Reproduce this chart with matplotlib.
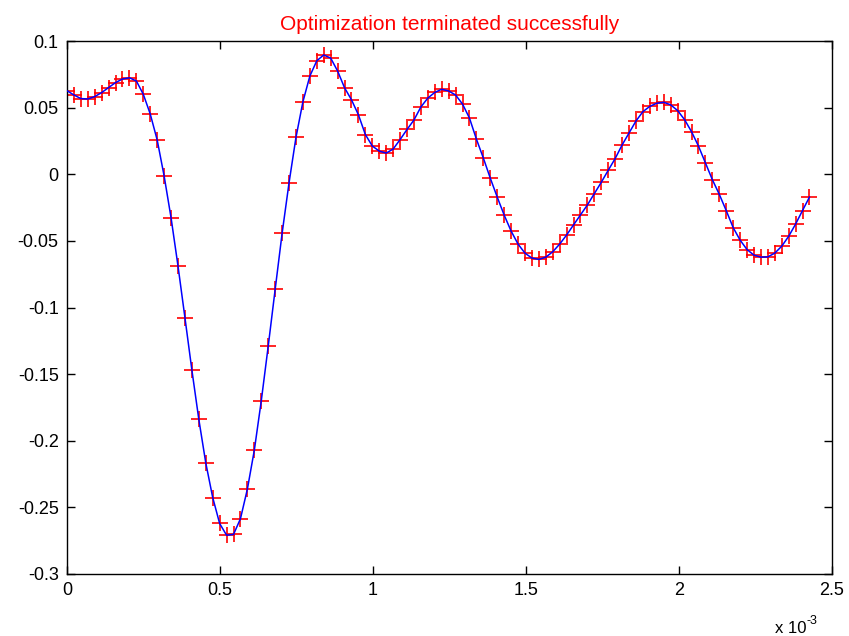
import numpy as np
import matplotlib
matplotlib.use('Agg')
import matplotlib.pyplot as plt
from matplotlib.ticker import FuncFormatter

plt.rcParams['font.family'] = ['Liberation Sans', 'DejaVu Sans']
plt.rcParams['axes.unicode_minus'] = False

fs = 44100.0  # sample rate, one marker per sample
n_samples = 108

y_vals = [
    0.0627, 0.0595, 0.0568, 0.0565, 0.0583, 0.0613, 0.0651, 0.0688, 0.0715, 0.0724,
    0.0700, 0.0600, 0.0452, 0.0257, -0.0013, -0.0327, -0.0689, -0.1077, -0.1470, -0.1840,
    -0.2166, -0.2426, -0.2621, -0.2709, -0.2703, -0.2585, -0.2362, -0.2070, -0.1700, -0.1290,
    -0.0864, -0.0444, -0.0064, 0.0277, 0.0544, 0.0737, 0.0852, 0.0895, 0.0872, 0.0775,
    0.0649, 0.0559, 0.0446, 0.0298, 0.0212, 0.0174, 0.0159, 0.0189, 0.0260, 0.0336,
    0.0407, 0.0505, 0.0572, 0.0614, 0.0638, 0.0625, 0.0595, 0.0527, 0.0422, 0.0264,
    0.0122, -0.0029, -0.0171, -0.0306, -0.0426, -0.0524, -0.0592, -0.0629, -0.0639, -0.0622,
    -0.0582, -0.0524, -0.0456, -0.0380, -0.0305, -0.0230, -0.0145, -0.0060, 0.0030, 0.0118,
    0.0220, 0.0310, 0.0400, 0.0470, 0.0510, 0.0533, 0.0540, 0.0521, 0.0478, 0.0410,
    0.0320, 0.0212, 0.0086, -0.0040, -0.0150, -0.0272, -0.0400, -0.0494, -0.0565, -0.0607,
    -0.0622, -0.0620, -0.0592, -0.0540, -0.0466, -0.0374, -0.0272, -0.0171,
]
t = np.arange(n_samples) / fs

x_ticks = [0, 0.5e-3, 1e-3, 1.5e-3, 2e-3, 2.5e-3]
y_ticks = [-0.3, -0.25, -0.2, -0.15, -0.1, -0.05, 0, 0.05, 0.1]

fig = plt.figure(figsize=(8.49, 6.36), dpi=100)
ax = fig.add_axes([0.0789, 0.0975, 0.9011, 0.838])

ax.plot(t, y_vals, 'r+', markersize=11, markeredgewidth=1.2, zorder=2)
ax.plot(t, y_vals, 'b-', linewidth=1.1, zorder=3)

ax.set_xlim(0, 2.5e-3)
ax.set_ylim(-0.3, 0.1)
ax.set_xticks(x_ticks)
ax.set_yticks(y_ticks)
ax.xaxis.set_major_formatter(FuncFormatter(lambda v, p: '%g' % round(v * 1e3, 3)))
ax.yaxis.set_major_formatter(FuncFormatter(lambda v, p: '%g' % round(v, 3)))
ax.tick_params(direction='in', length=6, width=1, top=True, right=True,
               labelsize=13, pad=6)
for s in ax.spines.values():
    s.set_linewidth(1.0)

ax.set_title('Optimization terminated successfully', color='red', fontsize=15, pad=8)

# the exponent under the x axis
ax.text(0.925, -0.103, 'x 10', transform=ax.transAxes, fontsize=12, ha='left', va='center')
ax.text(0.967, -0.088, '-3', transform=ax.transAxes, fontsize=9, ha='left', va='center')

fig.savefig('out.png', dpi=100)
